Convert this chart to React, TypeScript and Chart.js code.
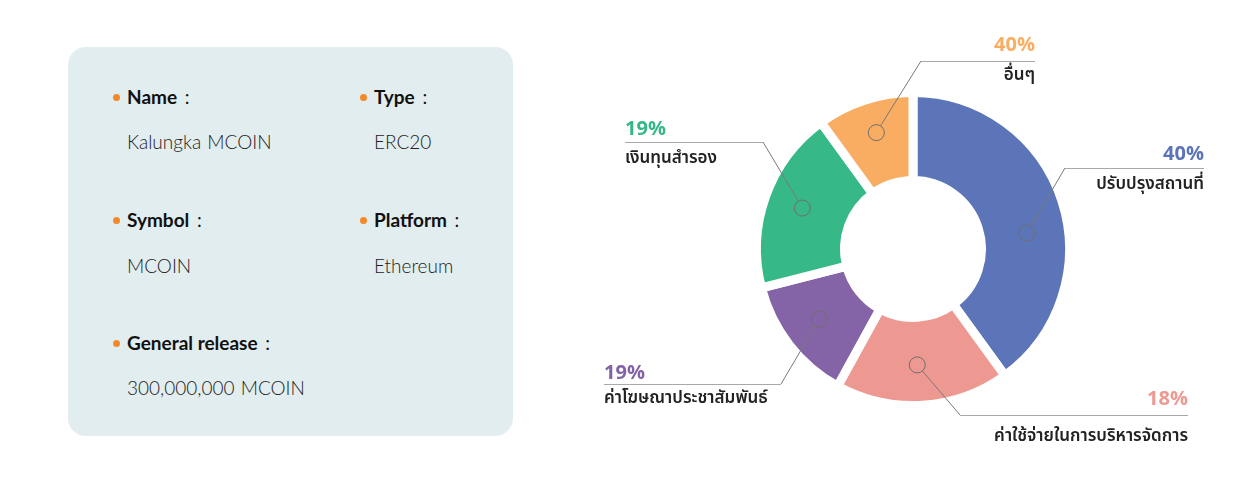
import React, { useEffect, useRef } from "react";
import { Chart, registerables } from "chart.js";

Chart.register(...registerables);

// ---- chart data ----
const categories = [
  "ปรับปรุงสถานที่",
  "ค่าใช้จ่ายในการบริหารจัดการ",
  "ค่าโฆษณาประชาสัมพันธ์",
  "เงินทุนสำรอง",
  "อื่นๆ",
];
const sliceValues = [40, 18, 13, 19, 10];
const percentLabels = ["40%", "18%", "19%", "19%", "40%"];
const sliceColors = ["#5c74b8", "#ee9892", "#8563a7", "#36b987", "#f9ad62"];
const percentColors = ["#5b73b7", "#ee9892", "#8462a6", "#35b886", "#f9ad60"];

// ---- info card data ----
const infoLabels = ["Name", "Type", "Symbol", "Platform", "General release"];
const infoValues = ["Kalungka MCOIN", "ERC20", "MCOIN", "Ethereum", "300,000,000 MCOIN"];

// ---- callout layout (relative to doughnut centre) ----
const calloutLayout = [
  { shift: 10, r: 115, elbowDx: 152, elbowDy: -81, endDx: 291, pctDy: -8, lblDy: 18 },
  { shift: 1.5, r: 116, elbowDx: 47, elbowDy: 166, endDx: 275, pctDy: -10, lblDy: 23 },
  { shift: 1, r: 117, elbowDx: -132, elbowDy: 135, endDx: -309, pctDy: -5, lblDy: 16 },
  { shift: 0.5, r: 118, elbowDx: -150, elbowDy: -107, endDx: -288, pctDy: -7, lblDy: 18 },
  { shift: 0.5, r: 122, elbowDx: 8, elbowDy: -188, endDx: 122, pctDy: -10, lblDy: 16 },
];

const FONT = "'Noto Sans Thai', 'Noto Sans', Lato, sans-serif";

const calloutPlugin = {
  id: "callouts",
  afterDatasetsDraw(chart: any) {
    const meta = chart.getDatasetMeta(0);
    const ctx: CanvasRenderingContext2D = chart.ctx;
    ctx.save();
    meta.data.forEach((arc: any, i: number) => {
      const p = arc.getProps(["x", "y", "startAngle", "endAngle"], true);
      const L = calloutLayout[i];
      const a = (p.startAngle + p.endAngle) / 2 + (L.shift * Math.PI) / 180;
      const ax = p.x + Math.cos(a) * L.r;
      const ay = p.y + Math.sin(a) * L.r;
      const ex = p.x + L.elbowDx;
      const ey = p.y + L.elbowDy;
      const endX = p.x + L.endDx;
      const dx = ex - ax;
      const dy = ey - ay;
      const len = Math.hypot(dx, dy);
      const cr = 8;
      // circle
      ctx.beginPath();
      ctx.arc(ax, ay, cr, 0, Math.PI * 2);
      ctx.strokeStyle = "#6f6f6f";
      ctx.lineWidth = 1;
      ctx.stroke();
      // leader
      ctx.beginPath();
      ctx.moveTo(ax + (dx / len) * cr, ay + (dy / len) * cr);
      ctx.lineTo(ex, ey);
      ctx.strokeStyle = "#7a7a7a";
      ctx.stroke();
      ctx.beginPath();
      ctx.moveTo(ex, ey + 0.5);
      ctx.lineTo(endX, ey + 0.5);
      ctx.strokeStyle = "#a9a9a9";
      ctx.stroke();
      // texts
      const right = L.endDx > 0;
      ctx.textAlign = right ? "right" : "left";
      ctx.textBaseline = "alphabetic";
      ctx.fillStyle = percentColors[i];
      ctx.font = `700 20px ${FONT}`;
      ctx.fillText(percentLabels[i], endX, ey + L.pctDy);
      ctx.textBaseline = "middle";
      ctx.fillStyle = "#222222";
      ctx.font = `600 17px ${FONT}`;
      ctx.fillText(categories[i], endX, ey + L.lblDy);
    });
    ctx.restore();
  },
};

function DoughnutChart() {
  const ref = useRef<HTMLCanvasElement | null>(null);
  useEffect(() => {
    if (!ref.current) return;
    const chart = new Chart(ref.current, {
      type: "doughnut",
      data: {
        labels: categories,
        datasets: [
          {
            data: sliceValues,
            backgroundColor: sliceColors,
            borderColor: "#ffffff",
            borderWidth: 9,
            borderAlign: "center",
            hoverOffset: 0,
          },
        ],
      },
      options: {
        responsive: false,
        animation: false,
        radius: 156.5,
        cutout: "43.77%",
        layout: { padding: { top: 16, right: 4, left: 0, bottom: 0 } },
        plugins: {
          legend: { display: false },
          tooltip: { enabled: false },
        },
        events: [],
      } as any,
      plugins: [calloutPlugin],
    });
    return () => chart.destroy();
  }, []);
  return (
    <canvas
      ref={ref}
      width={670}
      height={482}
      style={{ position: "absolute", left: 580, top: 0, width: 670, height: 482 }}
    />
  );
}

const infoPos = [
  { x: 116, y: 97, vy: 142 },
  { x: 363, y: 97, vy: 142 },
  { x: 116, y: 220, vy: 266 },
  { x: 363, y: 220, vy: 266 },
  { x: 116, y: 343, vy: 388 },
];

const CARD_FONT = "Lato, 'Noto Sans', sans-serif";

function InfoCard() {
  return (
    <div
      style={{
        position: "absolute",
        left: 68,
        top: 47,
        width: 445,
        height: 389,
        borderRadius: 18,
        background: "#e2edef",
      }}
    >
      {infoLabels.map((lab, i) => {
        const p = infoPos[i];
        return (
          <React.Fragment key={lab}>
            <div
              style={{
                position: "absolute",
                left: p.x - 68 - 3.5,
                top: p.y - 47 - 3.5,
                width: 7,
                height: 7,
                borderRadius: 4,
                background: "#f5892a",
              }}
            />
            <div
              style={{
                position: "absolute",
                left: p.x - 68 + 11,
                top: p.y - 47 - 13,
                height: 26,
                lineHeight: "26px",
                fontFamily: CARD_FONT,
                fontWeight: 700,
                fontSize: 19,
                color: "#111",
                whiteSpace: "nowrap",
              }}
            >
              {lab} <span style={{ fontWeight: 400, marginLeft: 3 }}>:</span>
            </div>
            <div
              style={{
                position: "absolute",
                left: p.x - 68 + 11,
                top: p.vy - 47 - 13,
                height: 26,
                lineHeight: "26px",
                fontFamily: CARD_FONT,
                fontWeight: 300,
                fontSize: 19,
                color: "#222",
                whiteSpace: "nowrap",
                wordSpacing: 1,
              }}
            >
              {infoValues[i]}
            </div>
          </React.Fragment>
        );
      })}
    </div>
  );
}

export default function App() {
  return (
    <div
      style={{
        position: "absolute",
        left: 0,
        top: 0,
        width: 1250,
        height: 482,
        overflow: "hidden",
        background: "#ffffff",
      }}
    >
      <InfoCard />
      <DoughnutChart />
    </div>
  );
}
